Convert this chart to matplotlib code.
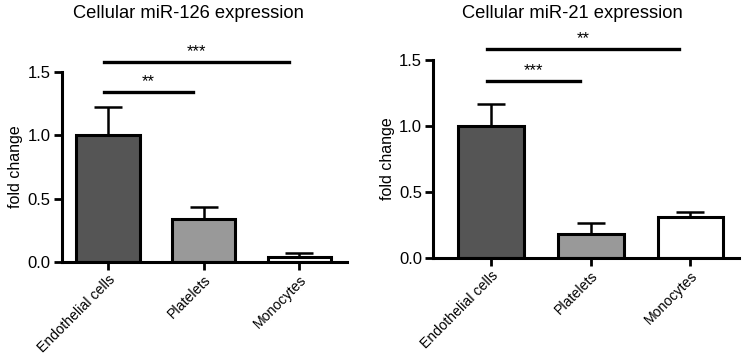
import numpy as np
import matplotlib
matplotlib.use('Agg')
import matplotlib.pyplot as plt

plt.rcParams['font.family'] = ['Liberation Sans', 'DejaVu Sans']

categories = ['Endothelial cells', 'Platelets', 'Monocytes']
bar_colors = ['#555555', '#999999', '#ffffff']

mir126_mean = [1.0, 0.34, 0.04]
mir126_err = [0.22, 0.09, 0.03]
mir126_sig = [(0, 1, 1.34, '**'), (0, 2, 1.58, '***')]

mir21_mean = [1.0, 0.18, 0.31]
mir21_err = [0.165, 0.085, 0.04]
mir21_sig = [(0, 1, 1.34, '***'), (0, 2, 1.58, '**')]


def draw_panel(ax, means, errs, sig, xlim, ylabel_x):
    x = np.arange(len(categories))
    ax.bar(x, means, width=0.66, color=bar_colors, edgecolor='black',
           linewidth=2.2, zorder=2)
    # upper error bar only
    ax.errorbar(x, means, yerr=[np.zeros(len(errs)), errs], fmt='none',
                ecolor='black', elinewidth=1.8, capsize=10, capthick=1.8,
                zorder=1)
    for i, j, h, label in sig:
        x0, x1 = x[i] - 0.045, x[j] - 0.11
        ax.plot([x0, x1], [h, h], color='black', lw=2.4, clip_on=False)
        ax.text((x0 + x1) / 2, h + 0.02, label, ha='center', va='bottom',
                fontsize=12)

    ax.set_xlim(*xlim)
    ax.set_ylim(0, 1.5)
    ax.set_yticks([0.0, 0.5, 1.0, 1.5])
    ax.set_yticklabels(['0.0', '0.5', '1.0', '1.5'])
    ax.set_xticks(x)
    ax.set_xticklabels(categories, rotation=45, ha='right',
                       rotation_mode='anchor', fontsize=10.2)
    ax.set_ylabel('fold change', fontsize=11.5)
    ax.yaxis.set_label_coords(ylabel_x, 0.5)

    for side in ['top', 'right']:
        ax.spines[side].set_visible(False)
    for side in ['left', 'bottom']:
        ax.spines[side].set_linewidth(2.2)
    ax.tick_params(axis='both', width=2, length=6)
    ax.tick_params(axis='x', pad=1.5)
    ax.tick_params(axis='y', labelsize=12, pad=2)


fig = plt.figure(figsize=(7.43, 3.54), dpi=100)
ax1 = fig.add_axes([0.0834, 0.26, 0.384, 0.537])
ax2 = fig.add_axes([0.583, 0.271, 0.412, 0.56])

draw_panel(ax1, mir126_mean, mir126_err, mir126_sig, (-0.48, 2.5), -0.137)
draw_panel(ax2, mir21_mean, mir21_err, mir21_sig, (-0.58, 2.49), -0.124)

fig.text(188 / 743, 1 - 13 / 354, 'Cellular miR-126 expression',
         ha='center', va='center', fontsize=13.2)
fig.text(572 / 743, 1 - 14 / 354, 'Cellular miR-21 expression',
         ha='center', va='center', fontsize=13.2)

fig.savefig('out.png', dpi=100)
